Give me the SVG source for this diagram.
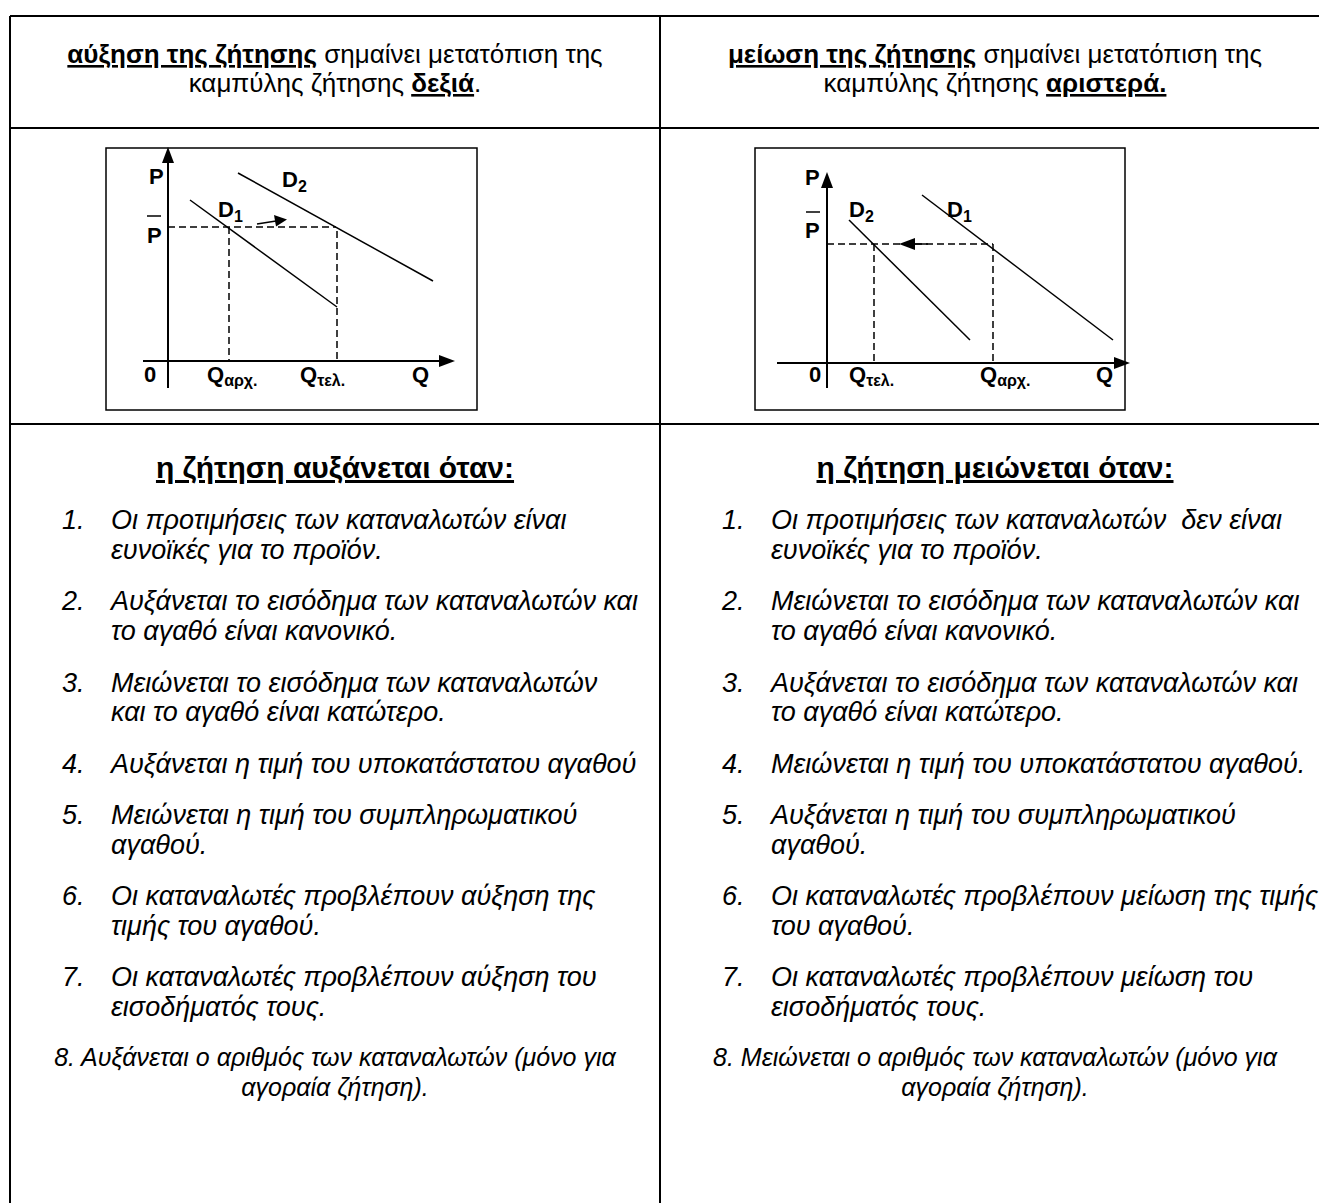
<svg xmlns="http://www.w3.org/2000/svg" width="1319" height="1203" viewBox="0 0 1319 1203">
<style>
.grid{stroke:#000;stroke-width:2;fill:none}
.box{stroke:#000;stroke-width:1.5;fill:#fff}
.ax{stroke:#000;stroke-width:2;fill:none}
.crv{stroke:#000;stroke-width:1.5;fill:none}
.dash{stroke:#000;stroke-width:1.5;fill:none;stroke-dasharray:7 4}
.hd{font-family:"Liberation Sans",Arial,sans-serif;font-size:26px;fill:#000;text-anchor:middle}
.lbl{font-family:"Liberation Sans",Arial,sans-serif;font-size:22px;font-weight:bold;fill:#000}
.sub{font-size:16px}
.ttl{font-family:"Liberation Sans",Arial,sans-serif;font-size:30px;font-weight:bold;text-decoration:underline;fill:#000;text-anchor:middle}
.it{font-family:"Liberation Sans",Arial,sans-serif;font-size:27px;font-style:italic;fill:#000;white-space:pre}
.c{text-anchor:middle;font-size:25px}
</style>
<rect width="1319" height="1203" fill="#fff"/>
<g id="table">
<line class="grid" x1="10" y1="16" x2="1319" y2="16"/>
<line class="grid" x1="10" y1="16" x2="10" y2="1203"/>
<line class="grid" x1="660" y1="16" x2="660" y2="1203"/>
<line class="grid" x1="10" y1="128" x2="1319" y2="128"/>
<line class="grid" x1="10" y1="424" x2="1319" y2="424"/>
</g>
<g id="header-left">
<text class="hd" x="335" y="63"><tspan font-weight="bold" text-decoration="underline">αύξηση της ζήτησης</tspan> σημαίνει μετατόπιση της</text>
<text class="hd" x="335" y="92">καμπύλης ζήτησης <tspan font-weight="bold" text-decoration="underline">δεξιά</tspan>.</text>
</g>
<g id="header-right">
<text class="hd" x="995" y="63"><tspan font-weight="bold" text-decoration="underline">μείωση της ζήτησης</tspan> σημαίνει μετατόπιση της</text>
<text class="hd" x="995" y="92">καμπύλης ζήτησης <tspan font-weight="bold" text-decoration="underline">αριστερά.</tspan></text>
</g>
<g id="chart-left">
<rect class="box" x="106" y="148" width="371" height="262"/>
<line class="ax" x1="168" y1="388" x2="168" y2="160"/>
<polygon points="168,147 162,163 174,163" fill="#000"/>
<line class="ax" x1="143" y1="361" x2="442" y2="361"/>
<polygon points="455,361 439,355 439,367" fill="#000"/>
<line class="crv" x1="190" y1="200" x2="337" y2="307"/>
<line class="crv" x1="238" y1="173" x2="433" y2="281"/>
<line class="dash" x1="168" y1="227" x2="336" y2="227"/>
<line class="dash" x1="229" y1="227" x2="229" y2="361"/>
<line class="dash" x1="337" y1="231" x2="337" y2="361"/>
<line class="crv" x1="257" y1="224" x2="276" y2="221"/>
<polygon points="287,219.5 274,215 276,226.5" fill="#000"/>
<text class="lbl" x="149" y="184">P</text>
<line stroke="#000" stroke-width="1.5" x1="147" y1="216" x2="161" y2="216"/>
<text class="lbl" x="147" y="243">P</text>
<text class="lbl" x="282" y="187">D<tspan class="sub" dy="5">2</tspan></text>
<text class="lbl" x="218" y="217">D<tspan class="sub" dy="5">1</tspan></text>
<text class="lbl" x="144" y="382">0</text>
<text class="lbl" x="207" y="382">Q<tspan class="sub" dy="4">αρχ.</tspan></text>
<text class="lbl" x="300" y="382">Q<tspan class="sub" dy="4">τελ.</tspan></text>
<text class="lbl" x="412" y="382">Q</text>
</g>
<g id="chart-right">
<rect class="box" x="755" y="148" width="370" height="262"/>
<line class="ax" x1="827" y1="388" x2="827" y2="185"/>
<polygon points="827,172 821,188 833,188" fill="#000"/>
<line class="ax" x1="777" y1="363" x2="1117" y2="363"/>
<polygon points="1130,363 1114,357 1114,369" fill="#000"/>
<line class="crv" x1="849" y1="220" x2="970" y2="340"/>
<line class="crv" x1="922" y1="195" x2="1113" y2="340"/>
<line class="dash" x1="827" y1="244" x2="993" y2="244"/>
<line class="dash" x1="874" y1="244" x2="874" y2="363"/>
<line class="dash" x1="993" y1="244" x2="993" y2="363"/>
<line class="crv" x1="910" y1="244" x2="928" y2="244"/>
<polygon points="899,244 915,238 915,250" fill="#000"/>
<text class="lbl" x="805" y="185">P</text>
<line stroke="#000" stroke-width="1.5" x1="806" y1="212" x2="820" y2="212"/>
<text class="lbl" x="805" y="238">P</text>
<text class="lbl" x="849" y="217">D<tspan class="sub" dy="5">2</tspan></text>
<text class="lbl" x="947" y="217">D<tspan class="sub" dy="5">1</tspan></text>
<text class="lbl" x="809" y="382">0</text>
<text class="lbl" x="849" y="382">Q<tspan class="sub" dy="4">τελ.</tspan></text>
<text class="lbl" x="980" y="382">Q<tspan class="sub" dy="4">αρχ.</tspan></text>
<text class="lbl" x="1096" y="382">Q</text>
</g>
<g id="list-left">
<text class="ttl" x="335" y="478">η ζήτηση αυξάνεται όταν:</text>
<text class="it" x="62" y="529">1.</text><text class="it" x="111" y="529">Οι προτιμήσεις των καταναλωτών είναι</text>
<text class="it" x="111" y="559">ευνοϊκές για το προϊόν.</text>
<text class="it" x="62" y="610">2.</text><text class="it" x="111" y="610">Αυξάνεται το εισόδημα των καταναλωτών και</text>
<text class="it" x="111" y="640">το αγαθό είναι κανονικό.</text>
<text class="it" x="62" y="692">3.</text><text class="it" x="111" y="692">Μειώνεται το εισόδημα των καταναλωτών</text>
<text class="it" x="111" y="721">και το αγαθό είναι κατώτερο.</text>
<text class="it" x="62" y="773">4.</text><text class="it" x="111" y="773">Αυξάνεται η τιμή του υποκατάστατου αγαθού</text>
<text class="it" x="62" y="824">5.</text><text class="it" x="111" y="824">Μειώνεται η τιμή του συμπληρωματικού</text>
<text class="it" x="111" y="854">αγαθού.</text>
<text class="it" x="62" y="905">6.</text><text class="it" x="111" y="905">Οι καταναλωτές προβλέπουν αύξηση της</text>
<text class="it" x="111" y="935">τιμής του αγαθού.</text>
<text class="it" x="62" y="986">7.</text><text class="it" x="111" y="986">Οι καταναλωτές προβλέπουν αύξηση του</text>
<text class="it" x="111" y="1016">εισοδήματός τους.</text>
<text class="it c" x="335" y="1066">8. Αυξάνεται ο αριθμός των καταναλωτών (μόνο για</text>
<text class="it c" x="335" y="1096">αγοραία ζήτηση).</text>
</g>
<g id="list-right">
<text class="ttl" x="995" y="478">η ζήτηση μειώνεται όταν:</text>
<text class="it" x="722" y="529">1.</text><text class="it" x="771" y="529">Οι προτιμήσεις των καταναλωτών  δεν είναι</text>
<text class="it" x="771" y="559">ευνοϊκές για το προϊόν.</text>
<text class="it" x="722" y="610">2.</text><text class="it" x="771" y="610">Μειώνεται το εισόδημα των καταναλωτών και</text>
<text class="it" x="771" y="640">το αγαθό είναι κανονικό.</text>
<text class="it" x="722" y="692">3.</text><text class="it" x="771" y="692">Αυξάνεται το εισόδημα των καταναλωτών και</text>
<text class="it" x="771" y="721">το αγαθό είναι κατώτερο.</text>
<text class="it" x="722" y="773">4.</text><text class="it" x="771" y="773">Μειώνεται η τιμή του υποκατάστατου αγαθού.</text>
<text class="it" x="722" y="824">5.</text><text class="it" x="771" y="824">Αυξάνεται η τιμή του συμπληρωματικού</text>
<text class="it" x="771" y="854">αγαθού.</text>
<text class="it" x="722" y="905">6.</text><text class="it" x="771" y="905">Οι καταναλωτές προβλέπουν μείωση της τιμής</text>
<text class="it" x="771" y="935">του αγαθού.</text>
<text class="it" x="722" y="986">7.</text><text class="it" x="771" y="986">Οι καταναλωτές προβλέπουν μείωση του</text>
<text class="it" x="771" y="1016">εισοδήματός τους.</text>
<text class="it c" x="995" y="1066">8. Μειώνεται ο αριθμός των καταναλωτών (μόνο για</text>
<text class="it c" x="995" y="1096">αγοραία ζήτηση).</text>
</g>
</svg>
